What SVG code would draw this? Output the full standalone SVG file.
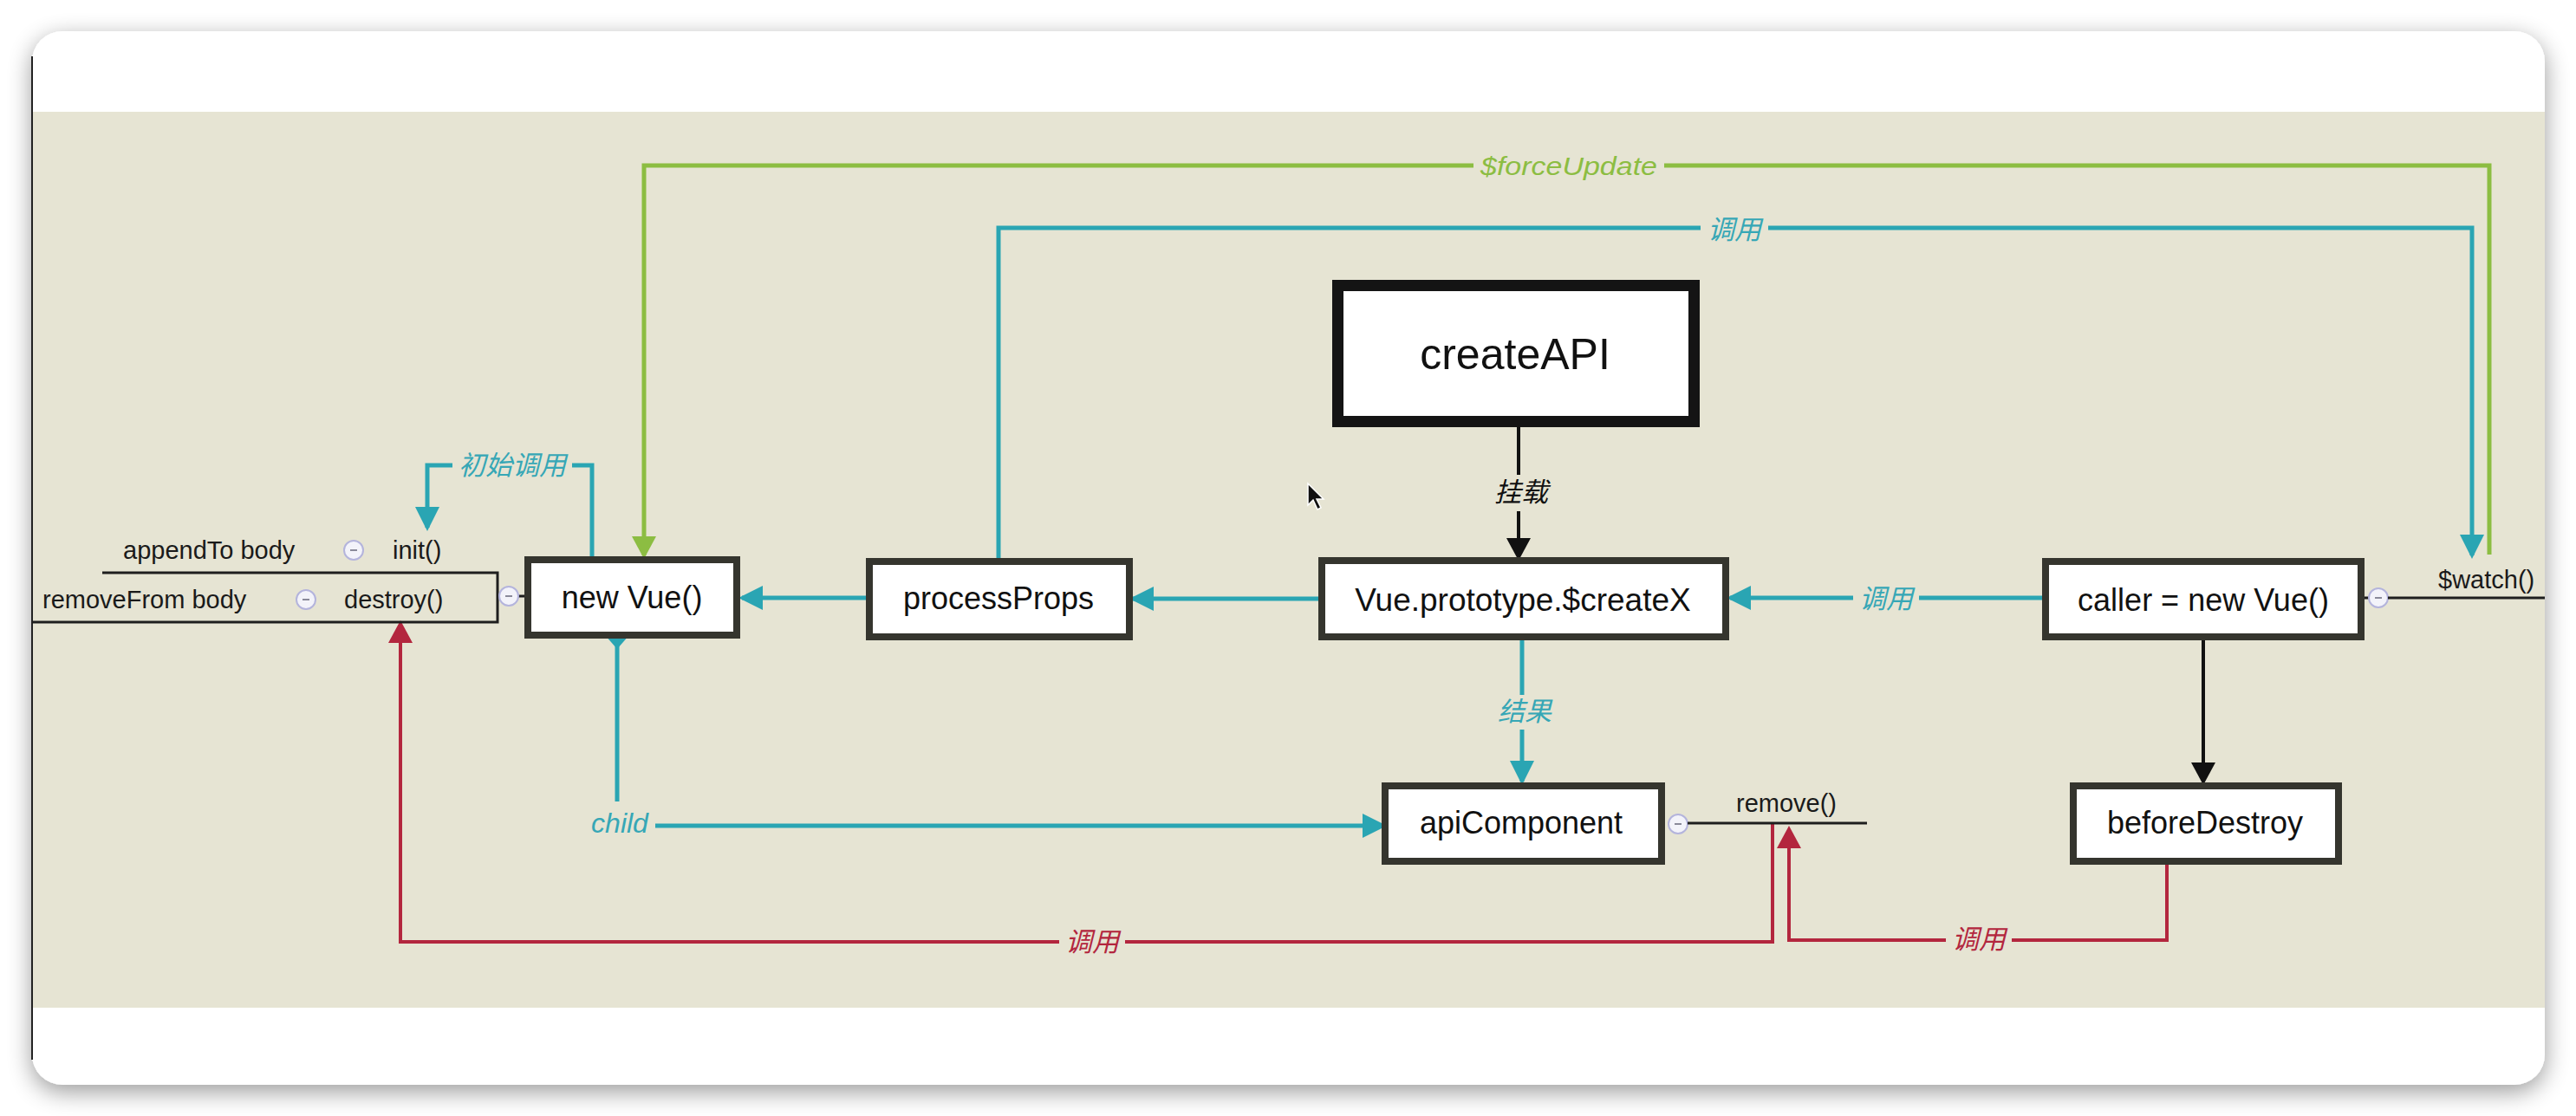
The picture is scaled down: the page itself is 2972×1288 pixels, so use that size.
<svg xmlns="http://www.w3.org/2000/svg" width="2972" height="1288" viewBox="0 0 2972 1288">
<style>
.box{fill:#fff;stroke:#35352e;stroke-width:8}
.big{fill:#fff;stroke:#141414;stroke-width:13}
.t{font-family:"Liberation Sans",Arial,sans-serif;fill:#111;text-anchor:middle;font-size:36px}
.s{font-family:"Liberation Sans",Arial,sans-serif;fill:#1a1a1a;font-size:29px}
.lbl{font-family:"Liberation Sans","Noto Sans CJK SC",sans-serif;font-style:italic;font-size:31px;text-anchor:middle}
.bg{fill:#e6e4d3}
.cy{stroke:#2aa5b3;stroke-width:5;fill:none}
.gr{stroke:#8cbd42;stroke-width:5;fill:none}
.rd{stroke:#b3263e;stroke-width:4;fill:none}
.bk{stroke:#111;stroke-width:4;fill:none}
.thin{stroke:#1e1e1e;stroke-width:3;fill:none}
.tg{fill:#f3f3fa;stroke:#b4b4dc;stroke-width:2}
.tm{stroke:#8a8a9a;stroke-width:2}
</style>
<defs>
<filter id="sh" x="-5%" y="-10%" width="110%" height="125%">
<feGaussianBlur in="SourceAlpha" stdDeviation="14"/>
<feOffset dy="8"/>
<feComponentTransfer><feFuncA type="linear" slope="0.4"/></feComponentTransfer>
<feMerge><feMergeNode/><feMergeNode in="SourceGraphic"/></feMerge>
</filter>
<marker id="aC" viewBox="0 0 28 30" markerUnits="userSpaceOnUse" markerWidth="28" markerHeight="30" refX="24" refY="15" orient="auto"><path d="M0,1 L28,15 L0,29 z" fill="#2aa5b3"/></marker>
<marker id="aG" viewBox="0 0 26 28" markerUnits="userSpaceOnUse" markerWidth="26" markerHeight="28" refX="22" refY="14" orient="auto"><path d="M0,0 L26,14 L0,28 z" fill="#8cbd42"/></marker>
<marker id="aR" viewBox="0 0 26 30" markerUnits="userSpaceOnUse" markerWidth="26" markerHeight="30" refX="22" refY="15" orient="auto"><path d="M0,1 L26,15 L0,29 z" fill="#b3263e"/></marker>
<marker id="aB" viewBox="0 0 26 30" markerUnits="userSpaceOnUse" markerWidth="26" markerHeight="30" refX="22" refY="15" orient="auto"><path d="M0,1 L26,15 L0,29 z" fill="#111"/></marker>
</defs>
<rect width="2972" height="1288" fill="#fff"/>
<rect x="37" y="36" width="2899" height="1216" rx="35" fill="#fff" filter="url(#sh)"/>
<rect x="37" y="129" width="2899" height="1034" fill="#e6e4d3"/>
<line x1="37" y1="65" x2="37" y2="1223" stroke="#222" stroke-width="2"/>

<g id="connectors">
<path class="gr" d="M2872,640 V191 H743 V641" marker-end="url(#aG)"/>
<path class="cy" d="M1152,644 V263 H2852 V641" marker-end="url(#aC)"/>
<path class="cy" d="M683,642 V537 H493 V609" marker-end="url(#aC)"/>
<path class="bk" d="M1752,493 V643" marker-end="url(#aB)"/>
<path class="cy" d="M1756,739 V902" marker-end="url(#aC)"/>
<path class="cy" d="M2356,690 H1996" marker-end="url(#aC)"/>
<path class="cy" d="M1521,691 H1307" marker-end="url(#aC)"/>
<path class="cy" d="M999,690 H856" marker-end="url(#aC)"/>
<path class="bk" d="M2542,739 V902" marker-end="url(#aB)"/>
<path class="cy" d="M712,745 V953 H1596" marker-end="url(#aC)"/>
<polygon points="712,717 726,733 712,749 698,733" fill="#2aa5b3"/>
<path class="rd" d="M2500,998 V1085 H2064 V957" marker-end="url(#aR)"/>
<path class="rd" d="M2045,950 V1087 H462 V720" marker-end="url(#aR)"/>
<rect class="bg" x="1700" y="176" width="220" height="32"/>
<text class="lbl" x="1810" y="202" fill="#8cbd42" style="font-size:30px" textLength="204" lengthAdjust="spacingAndGlyphs">$forceUpdate</text>
<rect class="bg" x="1962" y="247" width="78" height="34"/>
<text class="lbl" x="2001" y="276" fill="#36a7b6">调用</text>
<rect class="bg" x="522" y="520" width="138" height="35"/>
<text class="lbl" x="591" y="548" fill="#36a7b6">初始调用</text>
<rect class="bg" x="1718" y="548" width="74" height="42"/>
<text class="lbl" x="1755" y="579" fill="#111">挂载</text>
<rect class="bg" x="1722" y="802" width="74" height="40"/>
<text class="lbl" x="1759" y="832" fill="#36a7b6">结果</text>
<rect class="bg" x="2138" y="673" width="76" height="37"/>
<text class="lbl" x="2176" y="702" fill="#36a7b6">调用</text>
<rect class="bg" x="676" y="925" width="80" height="46"/>
<text class="lbl" x="715" y="961" fill="#36a7b6" style="font-size:32px">child</text>
<rect class="bg" x="1222" y="1068" width="76" height="38"/>
<text class="lbl" x="1260" y="1098" fill="#b3263e">调用</text>
<rect class="bg" x="2245" y="1066" width="76" height="38"/>
<text class="lbl" x="2283" y="1095" fill="#b3263e">调用</text>
</g>

<g id="left-panel">
<path class="thin" d="M118,661 H574 V718 H37"/>
<line class="thin" x1="574" y1="688" x2="605" y2="688" stroke-width="2"/>
<text class="s" x="142" y="645">appendTo body</text>
<text class="s" x="453" y="645">init()</text>
<text class="s" x="49" y="702">removeFrom body</text>
<text class="s" x="397" y="702">destroy()</text>
<circle class="tg" cx="408" cy="635" r="11"/><line class="tm" x1="404" y1="635" x2="412" y2="635"/>
<circle class="tg" cx="353" cy="692" r="11"/><line class="tm" x1="349" y1="692" x2="357" y2="692"/>
<circle class="tg" cx="587" cy="688" r="11"/><line class="tm" x1="583" y1="688" x2="591" y2="688"/>
</g>

<g id="node-createAPI">
<rect class="big" x="1543.5" y="329.5" width="411" height="157"/>
<text class="t" x="1748" y="426" style="font-size:50px">createAPI</text>
</g>
<g id="node-newVue">
<rect class="box" x="609" y="646" width="241" height="87"/>
<text class="t" x="729" y="702">new Vue()</text>
</g>
<g id="node-processProps">
<rect class="box" x="1003" y="648" width="300" height="87"/>
<text class="t" x="1152" y="703">processProps</text>
</g>
<g id="node-createX">
<rect class="box" x="1525" y="647" width="466" height="88"/>
<text class="t" x="1757" y="705" style="font-size:37px">Vue.prototype.$createX</text>
</g>
<g id="node-caller">
<rect class="box" x="2360" y="648" width="364" height="87"/>
<text class="t" x="2542" y="705">caller = new Vue()</text>
<line class="thin" x1="2728" y1="690" x2="2733" y2="690" stroke-width="2"/>
<circle class="tg" cx="2744" cy="690" r="11"/><line class="tm" x1="2740" y1="690" x2="2748" y2="690"/>
<line class="thin" x1="2755" y1="690" x2="2936" y2="690" stroke-width="2.5"/>
<text class="s" x="2813" y="679">$watch()</text>
</g>
<g id="node-apiComponent">
<rect class="box" x="1598" y="907" width="319" height="87"/>
<text class="t" x="1755" y="962">apiComponent</text>
<circle class="tg" cx="1936" cy="951" r="11"/><line class="tm" x1="1932" y1="951" x2="1940" y2="951"/>
<line class="thin" x1="1947" y1="950" x2="2154" y2="950"/>
<text class="s" x="2003" y="937">remove()</text>
</g>
<g id="node-beforeDestroy">
<rect class="box" x="2392" y="907" width="306" height="87"/>
<text class="t" x="2544" y="962">beforeDestroy</text>
</g>
<path d="M1509,558 V583 L1515,577 L1520,588 L1524,586 L1519,576 L1527,576 Z" fill="#111" stroke="#fff" stroke-width="1.5"/>
</svg>
